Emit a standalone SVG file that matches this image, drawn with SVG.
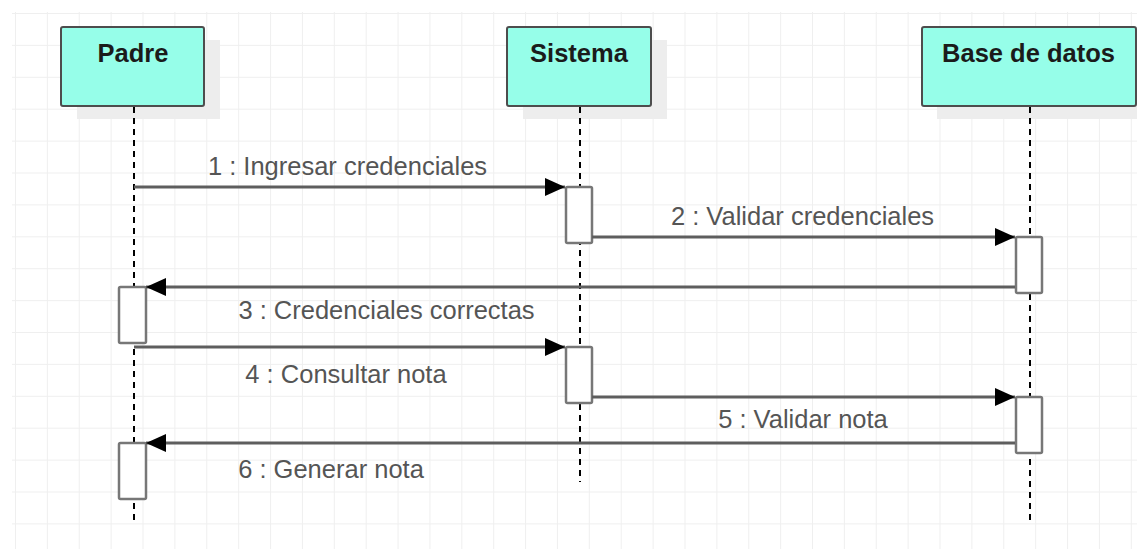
<svg xmlns="http://www.w3.org/2000/svg" width="1137" height="549" viewBox="0 0 1137 549">
<defs>
<pattern id="grid" x="15" y="13" width="31.88" height="31.9" patternUnits="userSpaceOnUse">
<path d="M0 0 V31.9 M0 0 H31.88" fill="none" stroke="#efefef" stroke-width="2"/>
</pattern>
<marker id="arr" viewBox="0 0 20 20" refX="20" refY="10" markerWidth="20" markerHeight="20" markerUnits="userSpaceOnUse" orient="auto">
<path d="M0 1 L20 10 L0 19 Z" fill="#000"/>
</marker>
</defs>
<style>
.box{fill:#96fee9;stroke:#4d4d4d;stroke-width:2}
.shadow{fill:#ededed}
.title{font-family:"Liberation Sans",Arial,sans-serif;font-weight:bold;font-size:25.5px;fill:#1b1b1b;text-anchor:middle}
.life{stroke:#000;stroke-width:2;stroke-dasharray:6 5;fill:none}
.act{fill:#fff;stroke:#777;stroke-width:2.5}
.msg{stroke:#5e5e5e;stroke-width:3;fill:none;marker-end:url(#arr)}
.lbl{font-family:"Liberation Sans",Arial,sans-serif;font-size:25.5px;fill:#555;text-anchor:middle}
</style>
<rect x="0" y="0" width="1137" height="549" fill="#fff"/>
<rect x="12" y="12" width="1125" height="537" fill="url(#grid)"/>

<g id="padre">
<rect class="shadow" x="77" y="40" width="143" height="79"/>
<rect class="box" x="61" y="27" width="143" height="79" rx="2"/>
<text class="title" x="133" y="62">Padre</text>
<line class="life" x1="134" y1="107" x2="134" y2="522"/>
<rect class="act" x="119" y="287" width="27" height="56" rx="1.5"/>
<rect class="act" x="119" y="443" width="27" height="56" rx="1.5"/>
</g>

<g id="sistema">
<rect class="shadow" x="523" y="40" width="144" height="79"/>
<rect class="box" x="507" y="27" width="144" height="79" rx="2"/>
<text class="title" x="579" y="62">Sistema</text>
<line class="life" x1="580" y1="107" x2="580" y2="482"/>
<rect class="act" x="566" y="187" width="26" height="56" rx="1.5"/>
<rect class="act" x="566" y="347" width="26" height="56" rx="1.5"/>
</g>

<g id="base-de-datos">
<rect class="shadow" x="937" y="40" width="200" height="79"/>
<rect class="box" x="922" y="27" width="214" height="79" rx="2"/>
<text class="title" x="1028.5" y="62">Base de datos</text>
<line class="life" x1="1030" y1="107" x2="1030" y2="522"/>
<rect class="act" x="1016" y="237" width="26" height="56" rx="1.5"/>
<rect class="act" x="1016" y="397" width="26" height="56" rx="1.5"/>
</g>

<g id="connectors">
<line class="msg" x1="134" y1="187" x2="565" y2="187"/>
<line class="msg" x1="592" y1="237" x2="1015" y2="237"/>
<line class="msg" x1="1015" y1="287" x2="146" y2="287"/>
<line class="msg" x1="134" y1="347" x2="565" y2="347"/>
<line class="msg" x1="592" y1="397" x2="1015" y2="397"/>
<line class="msg" x1="1015" y1="443" x2="146" y2="443"/>
<text class="lbl" x="347.5" y="175">1 : Ingresar credenciales</text>
<text class="lbl" x="802.5" y="225">2 : Validar credenciales</text>
<text class="lbl" x="386.5" y="319">3 : Credenciales correctas</text>
<text class="lbl" x="346" y="383">4 : Consultar nota</text>
<text class="lbl" x="803" y="428">5 : Validar nota</text>
<text class="lbl" x="331" y="478">6 : Generar nota</text>
</g>
</svg>
